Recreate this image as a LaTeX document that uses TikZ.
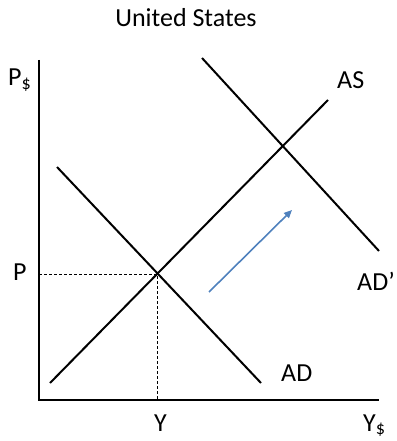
\documentclass[tikz,border=0pt]{standalone}
\usepackage{fontspec}
\setmainfont{Carlito}
\usetikzlibrary{arrows.meta}
\definecolor{arrowblue}{RGB}{79,129,189}
\begin{document}
\begin{tikzpicture}[x=1pt,y=-1pt,
  lbl/.style={font=\fontsize{26}{30}\selectfont, inner sep=0pt},
  axis/.style={line width=2.2pt},
  curve/.style={line width=2pt},
  guide/.style={line width=0.8pt, dash pattern=on 3pt off 2pt}]
\useasboundingbox (0,0) rectangle (396,441);
% axes
\coordinate (O) at (39,400);
\coordinate (ytop) at (39,60);
\coordinate (xend) at (379,400);
\draw[axis] (ytop) -- (O) -- (xend);
% curves
\coordinate (as1) at (50,383);
\coordinate (as2) at (328,100);
\coordinate (ad1) at (57,167);
\coordinate (ad2) at (261,383);
\coordinate (adp1) at (202,58);
\coordinate (adp2) at (379,251);
\coordinate (E) at (157,274);
\coordinate (Py) at (39,274);
\coordinate (Yx) at (157,400);
\draw[curve] (as1) -- (as2);
\draw[curve] (ad1) -- (ad2);
\draw[curve] (adp1) -- (adp2);
% guides
\draw[guide] (Py) -- (E) -- (Yx);
% shift arrow
\coordinate (a1) at (209,292);
\coordinate (a2) at (292,210);
\draw[arrowblue, line width=1.6pt, -{Triangle[length=8pt,width=7pt]}] (a1) -- (a2);
% labels
\node[lbl, anchor=base] (title) at (186,27) {United States};
\node[lbl, anchor=base west] (pd) at (8,86) {P\textsubscript{\$}};
\node[lbl, anchor=base west] (p) at (13,280) {P};
\node[lbl, anchor=base west] (as) at (337,89) {AS};
\node[lbl, anchor=base west] (adp) at (357,290) {AD’};
\node[lbl, anchor=base west] (ad) at (281,381) {AD};
\node[lbl, anchor=base west] (y) at (154,431) {Y};
\node[lbl, anchor=base west] (yd) at (363,431) {Y\textsubscript{\$}};
\end{tikzpicture}
\end{document}
